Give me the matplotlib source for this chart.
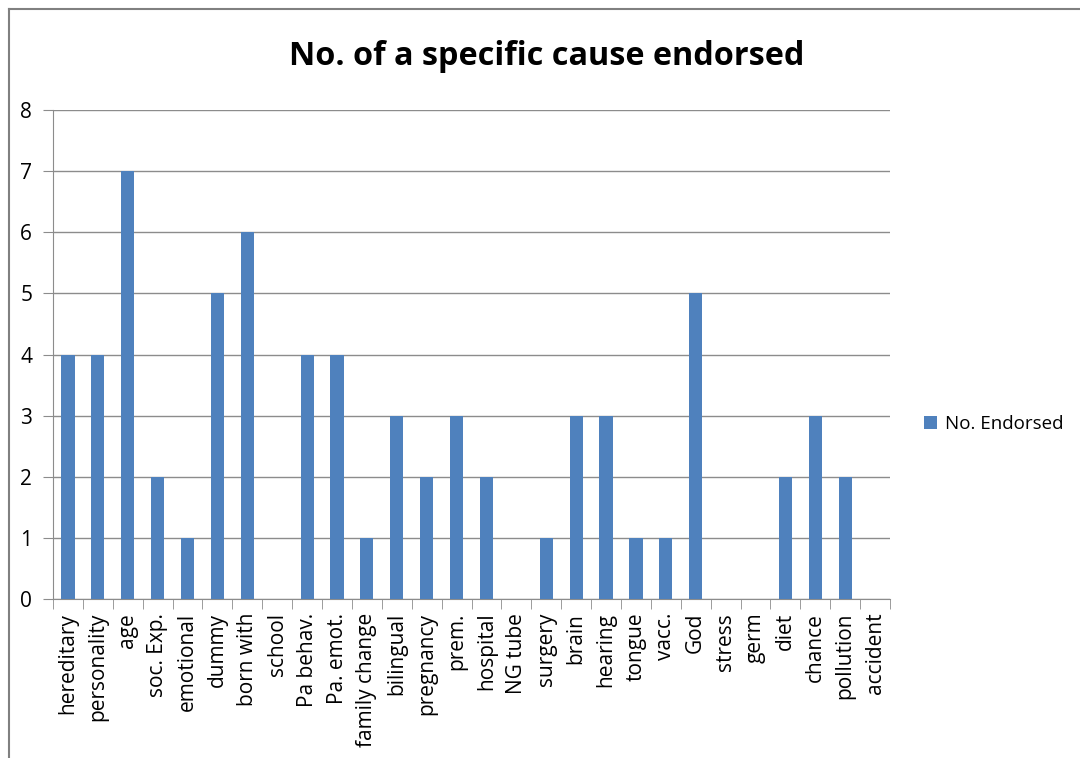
import numpy as np
import matplotlib
matplotlib.use('Agg')
import matplotlib.pyplot as plt
from matplotlib.lines import Line2D

# Causas y número de veces que se mencionaron
causes = ['hereditary', 'personality', 'age', 'soc. Exp.', 'emotional', 'dummy',
          'born with', 'school', 'Pa behav.', 'Pa. emot.', 'family change',
          'bilingual', 'pregnancy', 'prem.', 'hospital', 'NG tube', 'surgery',
          'brain', 'hearing', 'tongue', 'vacc.', 'God', 'stress', 'germ', 'diet',
          'chance', 'pollution', 'accident']
endorsed = [4, 4, 7, 2, 1, 5, 6, 0, 4, 4, 1, 3, 2, 3, 2, 0, 1, 3, 3, 1, 1, 5,
            0, 0, 2, 3, 2, 0]

plt.rcParams['font.family'] = ['Open Sans', 'DejaVu Sans']

fig = plt.figure(figsize=(10.8, 7.58), dpi=100)
ax = fig.add_axes([0.0491, 0.2098, 0.775, 0.645])

x = np.arange(len(causes))
ax.bar(x, endorsed, width=0.44, color='#4F81BD', label='No. Endorsed', zorder=3)

ax.set_xlim(-0.5, len(causes) - 0.5)
ax.set_ylim(0, 8)
ax.set_yticks(range(0, 9))
ax.yaxis.grid(True, color='#8c8c8c', linewidth=1)
ax.set_axisbelow(True)

ax.set_xticks(x)
ax.set_xticklabels(causes, rotation=90, fontsize=15)
ax.set_xticks(np.arange(-0.5, len(causes)), minor=True)
ax.tick_params(axis='x', which='major', length=0, pad=10)
ax.tick_params(axis='x', which='minor', length=7, color='#8c8c8c')
ax.tick_params(axis='y', length=7, color='#8c8c8c', labelsize=15, pad=8)

for side in ['top', 'right']:
    ax.spines[side].set_visible(False)
for side in ['left', 'bottom']:
    ax.spines[side].set_color('#8c8c8c')

fig.text(0.506, 0.925, 'No. of a specific cause endorsed', ha='center',
         va='center', fontsize=23.3, fontweight='bold')

fig.legend(loc='center left', bbox_to_anchor=(0.840, 0.44), frameon=False,
           fontsize=13.5, handlelength=0.7, handleheight=0.7, handletextpad=0.4)

# marco del gráfico
fig.add_artist(Line2D([9 / 1080, 9 / 1080], [0, 1 - 9 / 758],
                      transform=fig.transFigure, color='#808080', linewidth=1.5))
fig.add_artist(Line2D([9 / 1080, 1], [1 - 9 / 758, 1 - 9 / 758],
                      transform=fig.transFigure, color='#808080', linewidth=1.5))

fig.savefig('out.png', dpi=100)
